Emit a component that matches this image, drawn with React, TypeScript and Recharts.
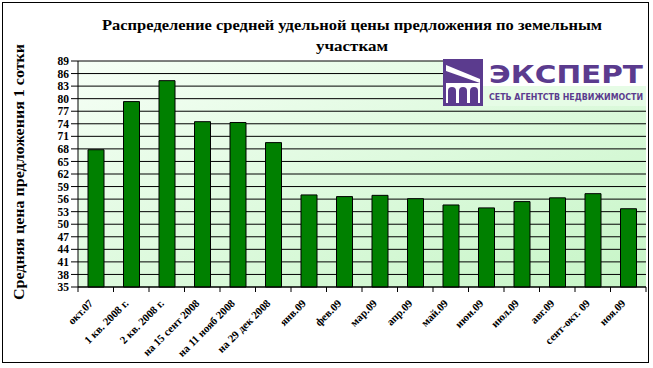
import { BarChart, Bar, XAxis, YAxis, CartesianGrid } from "recharts";

const categories = [
  "окт.07",
  "1 кв. 2008 г.",
  "2 кв. 2008 г.",
  "на 15 сент 2008",
  "на 11 нояб 2008",
  "на 29 дек 2008",
  "янв.09",
  "фев.09",
  "мар.09",
  "апр.09",
  "май.09",
  "июн.09",
  "июл.09",
  "авг.09",
  "сент-окт. 09",
  "ноя.09",
];
const prices = [67.8, 79.3, 84.3, 74.5, 74.3, 69.5, 57.0, 56.6, 56.9, 56.1, 54.6, 53.9, 55.4, 56.3, 57.3, 53.7];
const yTicks = [35, 38, 41, 44, 47, 50, 53, 56, 59, 62, 65, 68, 71, 74, 77, 80, 83, 86, 89];

const chartTitle = ["Распределение средней удельной цены предложения по земельным", "участкам"];
const yTitle = "Средняя цена предложения 1 сотки";

const SERIF = "'Liberation Serif', 'Times New Roman', serif";
const PURPLE = "#5b3b8e";

const data = categories.map((name, i) => ({ name, price: prices[i] }));

// excel-like tick marks sit between categories, not under bars
const STEP = (646 - 78) / categories.length;

function XTick(props: any) {
  const { x, y, payload, index } = props;
  const half = STEP / 2;
  const tx = x - 2;
  const ty = y + 17;
  return (
    <g>
      <line x1={x - half} x2={x - half} y1={y} y2={y + 5} stroke="#000" />
      {index === categories.length - 1 && (
        <line x1={x + half} x2={x + half} y1={y} y2={y + 5} stroke="#000" />
      )}
      <text
        x={tx}
        y={ty}
        textAnchor="end"
        transform={`rotate(-45 ${tx} ${ty})`}
        fontSize={11}
        fontWeight="bold"
        fontFamily={SERIF}
        fill="#000"
      >
        {payload.value}
      </text>
    </g>
  );
}

function Logo() {
  return (
    <svg
      width={203}
      height={47}
      style={{ position: "absolute", left: 443, top: 59 }}
    >
      <rect x={0} y={0} width={203} height={47} fill="#e6fce6" />
      <rect x={40} y={0} width={163} height={27} fill="#ffffff" />
      {/* house icon */}
      <rect x={0} y={0} width={40} height={47} fill={PURPLE} />
      <polygon points="3,6 37,20 37,24 3,12" fill="#ffffff" />
      <rect x={3} y={24} width={34} height={20} fill="#ffffff" />
      <path d="M5,44 V32 a4,4 0 0 1 8,0 V44 Z" fill={PURPLE} />
      <path d="M16,44 V32 a4,4 0 0 1 8,0 V44 Z" fill={PURPLE} />
      <path d="M27,44 V32 a4,4 0 0 1 8,0 V44 Z" fill={PURPLE} />
      <text
        x={46}
        y={24}
        fontSize={25}
        fontWeight="bold"
        fontFamily="'DejaVu Sans', sans-serif"
        fill={PURPLE}
        textLength={154}
        lengthAdjust="spacingAndGlyphs"
      >
        ЭКСПЕРТ
      </text>
      <text
        x={46}
        y={41}
        fontSize={8}
        fontWeight="bold"
        fontFamily="'DejaVu Sans', sans-serif"
        fill={PURPLE}
        textLength={154}
        lengthAdjust="spacingAndGlyphs"
      >
        СЕТЬ АГЕНТСТВ НЕДВИЖИМОСТИ
      </text>
    </svg>
  );
}

export default function App() {
  return (
    <div style={{ position: "absolute", left: 0, top: 0, width: 653, height: 368, background: "#fff" }}>
      <BarChart
        width={653}
        height={368}
        data={data}
        margin={{ top: 61, right: 7, left: 0, bottom: 0 }}
        barSize={16}
      >
        <defs>
          <linearGradient id="plotBg" x1="0" y1="0" x2="1" y2="1">
            <stop offset="0%" stopColor="#f6fff6" />
            <stop offset="100%" stopColor="#c6f5c6" />
          </linearGradient>
        </defs>
        <CartesianGrid
          vertical={false}
          stroke="#000"
          fill="url(#plotBg)"
          fillOpacity={1}
        />
        <XAxis
          dataKey="name"
          interval={0}
          height={81}
          tickLine={false}
          tickSize={0}
          tickMargin={0}
          axisLine={{ stroke: "#000" }}
          tick={<XTick />}
        />
        <YAxis
          domain={[35, 89]}
          ticks={yTicks}
          interval={0}
          width={78}
          tickSize={7}
          tickMargin={2}
          axisLine={{ stroke: "#000" }}
          tickLine={{ stroke: "#000" }}
          tick={{ fontSize: 11.5, fontWeight: "bold", fill: "#000", fontFamily: SERIF }}
        />
        <YAxis
          yAxisId="frame"
          orientation="right"
          width={0}
          tick={false}
          tickLine={false}
          axisLine={{ stroke: "#808080" }}
        />
        <Bar dataKey="price" fill="#008000" stroke="#000" strokeWidth={1} isAnimationActive={false} />
      </BarChart>

      <svg
        width={653}
        height={368}
        style={{ position: "absolute", left: 0, top: 0, pointerEvents: "none" }}
      >
        <text
          x={352}
          y={30}
          textAnchor="middle"
          fontSize={15}
          fontWeight="bold"
          fontFamily={SERIF}
          fill="#000"
          textLength={500}
          lengthAdjust="spacingAndGlyphs"
        >
          {chartTitle[0]}
        </text>
        <text
          x={352}
          y={51}
          textAnchor="middle"
          fontSize={15}
          fontWeight="bold"
          fontFamily={SERIF}
          fill="#000"
          textLength={72}
          lengthAdjust="spacingAndGlyphs"
        >
          {chartTitle[1]}
        </text>
        <text
          x={0}
          y={0}
          transform="translate(24 172) rotate(-90)"
          textAnchor="middle"
          fontSize={15}
          fontWeight="bold"
          fontFamily={SERIF}
          fill="#000"
          textLength={256}
          lengthAdjust="spacingAndGlyphs"
        >
          {yTitle}
        </text>
      </svg>

      <Logo />

      <div
        style={{
          position: "absolute",
          left: 2,
          top: 2,
          width: 647,
          height: 361,
          boxSizing: "border-box",
          border: "1px solid #000",
          pointerEvents: "none",
        }}
      />
    </div>
  );
}
